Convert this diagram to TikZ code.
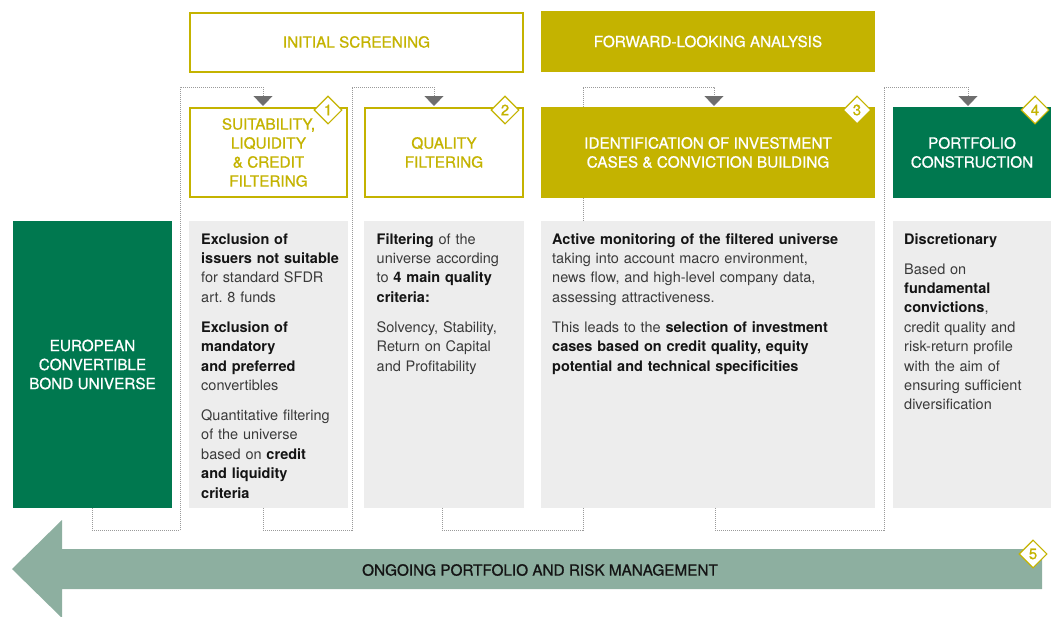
\documentclass[tikz,border=0pt]{standalone}
\usepackage{fontspec}
\setmainfont{TeX Gyre Heros}
\newfontfamily\medfont[FakeBold=0.8]{TeX Gyre Heros}
\usetikzlibrary{arrows.meta,shapes.geometric}
\definecolor{ochre}{HTML}{C4B300}
\definecolor{bgreen}{HTML}{00784F}
\definecolor{barg}{HTML}{8DAFA0}
\definecolor{boxgray}{HTML}{EDEDED}
\definecolor{dotgray}{HTML}{9A9A9A}
\definecolor{tipgray}{HTML}{6E6E6E}
\definecolor{bodytxt}{HTML}{3A3A3A}
\definecolor{boldtxt}{HTML}{141414}
\newcommand{\hb}[1]{{\bfseries\color{boldtxt}#1}}
\frenchspacing
\begin{document}
\begin{tikzpicture}[x=1pt,y=-1pt,
  outbox/.style={draw=ochre,line width=2pt,fill=white,text=ochre,align=center,inner sep=0pt,font=\medfont\fontsize{15.3}{19}\selectfont},
  fillbox/.style={fill=#1,text=white,align=center,inner sep=0pt,font=\medfont\fontsize{15.3}{19}\selectfont},
  graybox/.style={fill=boxgray,inner sep=0pt,minimum height=287pt},
  bodytext/.style={anchor=base west,inner sep=0pt,align=left,text=bodytxt,font=\fontsize{14.5}{19.4}\selectfont},
  badge/.style={diamond,draw=ochre,line width=1.1pt,fill=white,text=ochre,minimum width=28pt,minimum height=28pt,inner sep=0pt,font=\medfont\fontsize{15}{15}\selectfont},
  conn/.style={draw=dotgray,line width=0.8pt,dash pattern=on 1pt off 1pt,-{Triangle[width=19pt,length=10pt,fill=tipgray,color=tipgray]}}
]
\useasboundingbox (0,0) rectangle (1057,616);
\clip (0,0) rectangle (1057,616);

% connector end points
\coordinate (s0) at (92,508);
\coordinate (s1) at (263,508);
\coordinate (s2) at (442,508);
\coordinate (s3) at (715,508);
\coordinate (t1) at (263,106);
\coordinate (t2) at (434,106);
\coordinate (t3) at (714,106);
\coordinate (t4) at (968,106);

% connectors (behind the boxes)
\draw[conn] (s0) -- (92,530) -- (180,530) -- (180,87) -- (263,87) -- (t1);
\draw[conn] (s1) -- (263,530) -- (352,530) -- (352,87) -- (434,87) -- (t2);
\draw[conn] (s2) -- (442,530) -- (583,530) -- (583,87) -- (714,87) -- (t3);
\draw[conn] (s3) -- (715,530) -- (884,530) -- (884,87) -- (968,87) -- (t4);

% top phase boxes
\node[outbox,minimum width=333pt,minimum height=59pt] (phase1) at (356.5,42) {INITIAL SCREENING};
\node[fillbox=ochre,minimum width=334pt,minimum height=61pt] (phase2) at (708,41.5) {FORWARD-LOOKING ANALYSIS};

% step boxes
\node[outbox,minimum width=157pt,minimum height=89pt] (b1) at (268.5,152.5) {SUITABILITY,\\LIQUIDITY\\\& CREDIT\\FILTERING};
\node[outbox,minimum width=158pt,minimum height=89pt] (b2) at (444,152.5) {QUALITY\\FILTERING};
\node[fillbox=ochre,minimum width=334pt,minimum height=91pt] (b3) at (708,152.5) {IDENTIFICATION OF INVESTMENT\\CASES \& CONVICTION BUILDING};
\node[fillbox=bgreen,minimum width=158pt,minimum height=91pt] (b4) at (972,152.5) {PORTFOLIO\\CONSTRUCTION};

% universe and gray boxes
\node[fillbox=bgreen,minimum width=159pt,minimum height=287pt] (u) at (92.5,364.5) {EUROPEAN\\CONVERTIBLE\\BOND UNIVERSE};
\node[graybox,minimum width=159pt] (g1) at (268.5,364.5) {};
\node[graybox,minimum width=160pt] (g2) at (444,364.5) {};
\node[graybox,minimum width=334pt] (g3) at (708,364.5) {};
\node[graybox,minimum width=158pt] (g4) at (972,364.5) {};

\node[bodytext,text width=146pt] (x1) at (201,244) {\hb{Exclusion of}\\ \hb{issuers not suitable}\\ for standard SFDR\\ art. 8 funds\\[10.6pt] \hb{Exclusion of}\\ \hb{mandatory}\\ \hb{and preferred}\\ convertibles\\[10.6pt] Quantitative filtering\\ of the universe\\ based on \hb{credit}\\ \hb{and liquidity}\\ \hb{criteria}};
\node[bodytext,text width=146pt] (x2) at (376.5,244) {\hb{Filtering} of the\\ universe according\\ to \hb{4 main quality}\\ \hb{criteria:}\\[10.6pt] Solvency, Stability,\\ Return on Capital\\ and Profitability};
\node[bodytext,text width=320pt] (x3) at (552,244) {\hb{Active monitoring of the filtered universe}\\ taking into account macro environment,\\ news flow, and high-level company data,\\ assessing attractiveness.\\[10.6pt] This leads to the \hb{selection of investment}\\ \hb{cases based on credit quality, equity}\\ \hb{potential and technical specificities}};
\node[bodytext,text width=146pt] (x4) at (904,244) {\hb{Discretionary}\\[10.6pt] Based on\\ \hb{fundamental}\\ \hb{convictions},\\ credit quality and\\ risk-return profile\\ with the aim of\\ ensuring sufficient\\ diversification};

% ongoing management arrow
\fill[barg] (12,569) -- (62,520) -- (62,549) -- (1042,549) -- (1042,589) -- (62,589) -- (62,618) -- cycle;
\node[text=boldtxt,inner sep=0pt,font=\medfont\fontsize{15.3}{19}\selectfont] (ongoing) at (540,570) {ONGOING PORTFOLIO AND RISK MANAGEMENT};

% badges
\node[badge] (n1) at (328,110) {1};
\node[badge] (n2) at (505,110) {2};
\node[badge] (n3) at (857,110) {3};
\node[badge] (n4) at (1035,110) {4};
\node[badge] (n5) at (1033,554) {5};
\end{tikzpicture}
\end{document}
